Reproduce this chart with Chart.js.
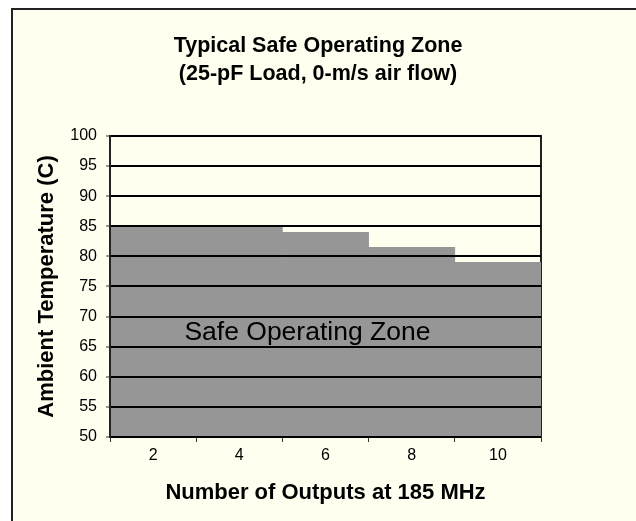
<!DOCTYPE html>
<html>
<head>
<meta charset="utf-8">
<script src="https://cdn.jsdelivr.net/npm/chart.js@4/dist/chart.umd.min.js"></script>
<style>
  body { margin: 0; background: #ffffff; }
  #wrap { position: absolute; left: 0; top: 0; width: 636px; height: 521px; }
</style>
</head>
<body>
<div id="wrap"><canvas id="zoneChart" width="636" height="521"></canvas></div>
<script>
const outputs = ["2", "4", "6", "8", "10"];
const maxTemp = [85, 85, 84, 81.5, 79];
const tempTicks = [50, 55, 60, 65, 70, 75, 80, 85, 90, 95, 100];

const fontFamily = "'Liberation Sans', Arial, sans-serif";

// page frame + light yellow background
const framePlugin = {
  id: "frame",
  beforeDraw(chart) {
    const c = chart.ctx;
    c.save();
    c.fillStyle = "#ffffff";
    c.fillRect(0, 0, chart.width, chart.height);
    c.fillStyle = "#fffff0";
    c.fillRect(12, 9, chart.width - 12, chart.height - 9);
    c.strokeStyle = "#222222";
    c.lineWidth = 2;
    c.beginPath();
    c.moveTo(12, chart.height);
    c.lineTo(12, 9);
    c.lineTo(chart.width, 9);
    c.stroke();
    c.restore();
  },
};

// "Safe Operating Zone" label inside the grey area
const zoneLabel = {
  id: "zoneLabel",
  afterDatasetsDraw(chart) {
    const area = chart.chartArea;
    const y = chart.scales.y.getPixelForValue(67.3);
    const c = chart.ctx;
    c.save();
    c.font = "26.5px " + fontFamily;
    c.fillStyle = "#000000";
    c.textAlign = "center";
    c.textBaseline = "middle";
    c.fillText("Safe Operating Zone", area.left + area.width * 0.458, y);
    c.restore();
  },
};

const ctx = document.getElementById("zoneChart");

new Chart(ctx, {
  type: "bar",
  data: {
    labels: outputs,
    datasets: [
      {
        data: maxTemp,
        backgroundColor: "#969696",
        borderWidth: 0,
        categoryPercentage: 1,
        barPercentage: 1,
      },
    ],
  },
  options: {
    responsive: false,
    animation: false,
    layout: { padding: { left: 12, right: 12, top: 9, bottom: 0 } },
    scales: {
      x: {
        offset: true,
        grid: {
          offset: true,
          drawOnChartArea: false,
          drawTicks: true,
          tickLength: 5,
          color: "#333333",
          lineWidth: 1,
          z: 1,
        },
        border: { display: true, color: "#333333", width: 1, z: 1 },
        ticks: {
          color: "#000000",
          padding: 4,
          font: { family: fontFamily, size: 16 },
        },
        title: {
          display: true,
          text: "Number of Outputs at 185 MHz",
          color: "#000000",
          font: { family: fontFamily, size: 22, weight: "bold" },
          padding: { top: 0, bottom: 15 },
        },
        afterFit(scale) {
          scale.height = 84;
        },
      },
      y: {
        min: 50,
        max: 100,
        afterBuildTicks(scale) {
          scale.ticks = tempTicks.map((v) => ({ value: v }));
        },
        grid: {
          color: "#000000",
          lineWidth: 2,
          tickLength: 4,
          tickColor: "#333333",
          tickWidth: 1,
          z: 1,
        },
        border: { display: true, color: "#222222", width: 2, z: 1 },
        ticks: {
          color: "#000000",
          padding: 9,
          font: { family: fontFamily, size: 16 },
        },
        title: {
          display: true,
          text: "Ambient Temperature (C)",
          color: "#000000",
          font: { family: fontFamily, size: 22, weight: "bold" },
          padding: { top: 22, bottom: 0 },
        },
        afterFit(scale) {
          scale.width = 98;
        },
      },
      y2: {
        position: "right",
        min: 50,
        max: 100,
        grid: { display: false },
        ticks: { display: false },
        border: { display: true, color: "#222222", width: 2 },
        afterFit(scale) {
          scale.width = 83;
        },
      },
    },
    plugins: {
      legend: { display: false },
      tooltip: { enabled: false },
      title: {
        display: true,
        text: ["Typical Safe Operating Zone", "(25-pF Load, 0-m/s air flow)"],
        color: "#000000",
        font: { family: fontFamily, size: 21.5, weight: "bold", lineHeight: 1.3 },
        padding: { top: 23, bottom: 48 },
      },
    },
  },
  plugins: [framePlugin, zoneLabel],
});
</script>
</body>
</html>
